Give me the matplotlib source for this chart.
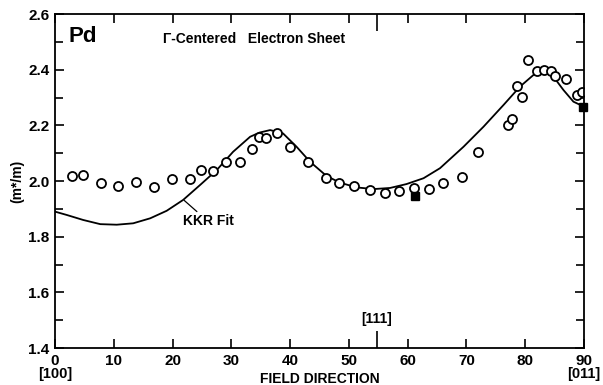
import matplotlib.pyplot as plt
from matplotlib.ticker import FixedLocator, MultipleLocator

plt.rcParams['font.family'] = ['Liberation Sans', 'DejaVu Sans']
plt.rcParams['font.weight'] = 'bold'

# measured points (open circles)
angle = [2.9, 4.7, 7.8, 10.8, 13.8, 16.8, 19.9, 22.9, 24.8, 26.9, 29.1, 31.5,
         33.6, 34.7, 35.9, 37.8, 40.0, 43.1, 46.1, 48.4, 50.9, 53.6, 56.1,
         58.6, 61.0, 63.6, 66.0, 69.2, 72.0, 77.1, 77.8, 78.6, 79.5, 80.5,
         82.0, 83.2, 84.4, 85.0, 86.9, 88.8, 89.7]
mass = [2.019, 2.021, 1.992, 1.983, 1.996, 1.979, 2.007, 2.008, 2.041, 2.037,
        2.069, 2.069, 2.114, 2.158, 2.154, 2.172, 2.121, 2.069, 2.012, 1.994,
        1.982, 1.968, 1.956, 1.964, 1.974, 1.971, 1.992, 2.013, 2.103, 2.201,
        2.222, 2.342, 2.302, 2.435, 2.394, 2.400, 2.395, 2.378, 2.367, 2.309,
        2.319]

# filled squares
sq_angle = [61.3, 89.9]
sq_mass = [1.946, 2.267]

# KKR fit
kkr_angle = [0, 2.0, 4.8, 7.7, 10.5, 13.3, 16.2, 19.0, 21.8, 24.7, 27.5, 30.3,
             33.2, 34.8, 36.6, 38.8, 41.1, 43.4, 46.2, 48.5, 51.3, 54.2, 57.0,
             59.8, 62.7, 65.5, 69.5, 72.9, 76.3, 79.1, 81.4, 83.1, 84.8, 86.5,
             88.2, 90]
kkr_mass = [1.890, 1.878, 1.860, 1.845, 1.843, 1.848, 1.866, 1.893, 1.932,
            1.986, 2.039, 2.105, 2.159, 2.174, 2.183, 2.171, 2.123, 2.069,
            2.018, 1.994, 1.977, 1.971, 1.975, 1.989, 2.010, 2.046, 2.123,
            2.195, 2.273, 2.339, 2.381, 2.393, 2.375, 2.327, 2.285, 2.267]

fig = plt.figure(figsize=(6.03, 3.85), dpi=100)
ax = fig.add_axes([0.0912, 0.0961, 0.8773, 0.8675])

ax.plot(kkr_angle, kkr_mass, color='black', lw=1.3)
ax.plot(angle, mass, 'o', mfc='white', mec='black', ms=6.5, mew=1.3)
ax.plot(sq_angle, sq_mass, 's', color='black', ms=5.5, clip_on=False)

ax.set_xlim(0, 90)
ax.set_ylim(1.4, 2.6)

for s in ax.spines.values():
    s.set_linewidth(1.3)

ax.set_xticks(range(0, 100, 10))
ax.set_xticklabels([str(v) for v in range(0, 100, 10)])
ax.xaxis.set_minor_locator(FixedLocator([54.74]))
ax.set_yticks([1.4, 1.6, 1.8, 2.0, 2.2, 2.4, 2.6])
ax.yaxis.set_minor_locator(MultipleLocator(0.1))
ax.tick_params(which='major', direction='in', top=True, right=True,
               length=6.5, width=1.2, labelsize=11, pad=4)
ax.tick_params(axis='x', which='minor', direction='in', top=True,
               length=12, width=1.2)
ax.tick_params(axis='y', which='minor', direction='in', right=True,
               length=6, width=1.2)
for lab in ax.get_xticklabels() + ax.get_yticklabels():
    lab.set_fontweight('bold')

ax.set_xlabel('FIELD DIRECTION', fontsize=10, fontweight='bold', labelpad=3)
ax.set_ylabel('(m*/m)', fontsize=10, fontweight='bold', labelpad=3)

ax.text(0, -0.077, '[100]', transform=ax.transAxes, ha='center', va='center',
        fontsize=10.5, fontweight='bold')
ax.text(1.0, -0.077, '[011]', transform=ax.transAxes, ha='center', va='center',
        fontsize=10.5, fontweight='bold')
ax.text(54.74, 1.48, '[111]', ha='center', va='bottom', fontsize=10,
        fontweight='bold')

ax.text(2.3, 2.52, 'Pd', fontsize=16, fontweight='bold', va='center')
ax.text(18.4, 2.51, 'Γ-Centered   Electron Sheet', fontsize=10,
        fontweight='bold', va='center')

ax.annotate('KKR Fit', xy=(22.0, 1.93), xytext=(21.7, 1.855),
            fontsize=10, fontweight='bold', va='center', ha='left',
            arrowprops=dict(arrowstyle='-', color='black', lw=0.9,
                            shrinkA=0, shrinkB=0))

fig.savefig('out.png', dpi=100)
